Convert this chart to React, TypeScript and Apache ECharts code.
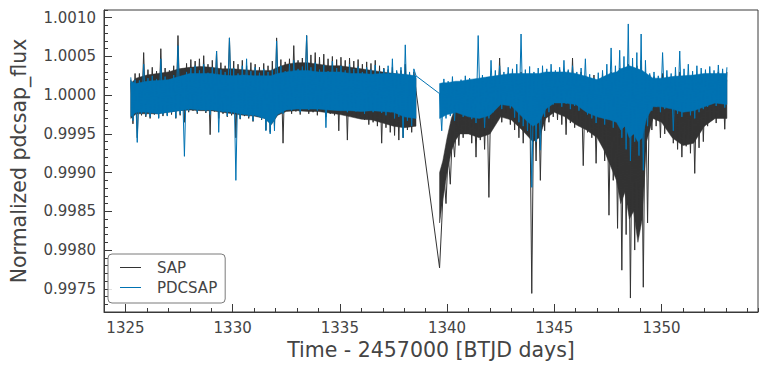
import React, { useEffect, useRef } from "react";
import * as echarts from "echarts";

// Time grid (BTJD - 2457000), 0.1-day steps for each orbit
const SEG1_START = 1325.25;
const SEG2_START = 1339.65;
const STEP = 0.1;

// Flux deviations in units of 1e-5 (flux = 1 + v * 1e-5), alternating high / low readings
const sapSeg1 = [
  20, -37, 28, -55, 28, -26, 55, -28, 33, -30, 36, -25, 31, -29, 60, -27, 35, -26, 32, -25,
  38, -30, 77, -26, 34, -35, 41, -22, 46, -20, 44, -24, 47, -19, 51, -23, 40, -51, 45, -21,
  57, -30, 42, -24, 38, -28, 74, -26, 44, -55, 40, -31, 45, -27, 38, -30, 42, -34, 40, -28,
  36, -32, 41, -45, 38, -48, 44, -40, 74, -22, 46, -62, 43, -20, 47, -24, 64, -21, 45, -25,
  48, -18, 77, -24, 52, -22, 55, -26, 49, -20, 53, -28, 47, -24, 50, -26, 46, -46, 49, -25,
  45, -58, 48, -24, 44, -28, 46, -26, 40, -32, 43, -38, 41, -35, 45, -40, 38, -62, 35, -42,
  33, -48, 36, -52, 30, -58, 32, -55, 40, -45, 28, -48, 30, 6,
];
const pdcSeg1 = [
  23, -33, 20, -61, 19, -24, 40, -26, 22, -28, 25, -22, 21, -30, 47, -25, 24, -27, 20, -23,
  26, -29, 64, -24, 22, -79, 30, -20, 35, -18, 38, -22, 32, -16, 40, -21, 29, -25, 36, -19,
  57, -48, 33, -22, 30, -27, 74, -24, 35, -110, 28, -30, 38, -25, 47, -28, 31, -33, 36, -26,
  29, -31, 34, -46, 30, -50, 33, -46, 70, -18, 38, -24, 31, -14, 40, -20, 45, -17, 34, -22,
  37, -12, 77, -19, 36, -15, 42, -20, 33, -13, 39, -42, 31, -17, 44, -19, 35, -14, 38, -18,
  32, -22, 40, -16, 34, -21, 37, -19, 30, -24, 36, -18, 33, -22, 39, -20, 31, -23, 34, -26,
  38, -22, 47, -30, 32, -28, 36, -55, 65, -33, 30, -40, 34, 25,
];
const sapSeg2 = [
  -223, -165, -100, -140, -75, -115, -45, -80, -25, -65, -5, -55, 10, -50, 15, -62, 12, -80, 18, -58,
  15, -70, 20, -132, 16, -40, 22, -30, 48, -35, 25, -22, 28, -38, 24, -45, 26, -55, 30, -62,
  22, -50, 25, -256, 20, -85, 24, -110, 26, -46, 28, -35, 30, -28, 26, -32, 33, -38, 29, -51,
  31, -36, 48, -42, 27, -40, 30, -91, 25, -48, 22, -55, 26, -88, 20, -60, 28, -85, 24, -155,
  30, -110, 26, -172, 35, -226, 30, -180, 40, -262, 32, -200, 38, -170, 45, -248, 30, -165, 26, -45,
  24, -40, 22, -55, 28, -50, 24, -38, 20, -62, 26, -70, 30, -80, 22, -66, 25, -75, 20, -101,
  24, -68, 22, -60, 26, -40, 28, -30, 24, -36, 30, -28, 26, -44, 30,
];
const pdcSeg2 = [
  2, -46, 21, -30, 18, -27, 24, -33, 16, -22, 20, -28, 25, -19, 22, -31, 19, -36, 77, -25,
  26, -42, 23, -30, 45, -22, 32, -15, 38, -18, 30, -12, 36, -17, 34, -29, 40, -35, 79, -40,
  33, -46, 37, -119, 30, -60, 35, -71, 38, -28, 34, -22, 40, -12, 32, -8, 36, -15, 45, -11,
  33, -18, 38, -14, 30, -20, 35, -17, 47, -25, 27, -30, 22, -36, 29, -28, 32, -38, 40, -30,
  61, -42, 38, -35, 58, -55, 50, -70, 92, -85, 48, -60, 55, -78, 79, -97, 45, -40, 28, -20,
  30, -15, 25, -22, 55, -18, 32, -12, 28, -46, 36, -24, 57, -28, 34, -20, 40, -26, 31, -30,
  38, -22, 35, -18, 33, -15, 37, -10, 32, -14, 39, -8, 34, -16, 36,
];

// Dense-core envelopes of each light curve (same 1e-5 units), read at knot times
const coreT1 = [
  1325.25, 1325.5, 1326.0, 1326.5, 1327.0, 1327.5, 1328.0, 1328.5, 1329.0, 1329.5,
  1330.0, 1330.5, 1331.0, 1331.5, 1331.8, 1332.1, 1332.5, 1333.0, 1333.5, 1334.0,
  1334.5, 1335.0, 1335.5, 1336.0, 1336.5, 1337.0, 1337.5, 1338.0, 1338.55,
];
const pdcCoreHi1 = [18, 15, 18, 19, 20, 24, 28, 28, 28, 26, 25, 26, 25, 25, 25, 28, 30, 32, 32, 30, 30, 30, 28, 28, 27, 28, 28, 27, 25];
const pdcCoreLo1 = [-28, -22, -22, -24, -22, -20, -18, -19, -19, -21, -22, -25, -26, -30, -38, -25, -19, -18, -18, -18, -19, -20, -20, -21, -20, -21, -22, -28, -30];
const sapCoreHi1 = [15, 22, 26, 28, 30, 34, 36, 37, 36, 34, 34, 33, 32, 32, 32, 36, 40, 42, 42, 40, 38, 38, 36, 34, 32, 30, 28, 26, 22];
const sapCoreLo1 = [-30, -24, -24, -24, -22, -20, -19, -20, -20, -22, -24, -26, -27, -30, -38, -26, -21, -20, -21, -21, -23, -25, -28, -31, -32, -36, -40, -42, -40];

const coreT2 = [
  1339.65, 1339.8, 1340.0, 1340.2, 1340.4, 1340.6, 1341.0, 1341.5, 1342.0, 1342.5,
  1343.0, 1343.5, 1344.0, 1344.3, 1344.6, 1345.0, 1345.5, 1346.0, 1346.5, 1347.0,
  1347.3, 1347.6, 1347.9, 1348.1, 1348.3, 1348.5, 1348.7, 1348.9, 1349.1, 1349.3,
  1349.6, 1350.0, 1350.5, 1351.0, 1351.5, 1352.0, 1352.5, 1353.05,
];
const pdcCoreHi2 = [
  15, 16, 16, 17, 18, 18, 20, 22, 24, 26, 28, 28, 28, 28, 30, 30, 30, 28, 24, 20,
  24, 28, 30, 34, 36, 38, 36, 34, 32, 28, 22, 22, 24, 25, 26, 28, 28, 28,
];
const pdcCoreLo2 = [
  -30, -28, -25, -24, -22, -24, -28, -30, -26, -12, -14, -28, -40, -35, -18, -10, -10, -12, -22, -28,
  -30, -32, -35, -45, -40, -55, -50, -60, -55, -30, -15, -15, -18, -22, -20, -15, -10, -12,
];
const sapCoreHi2 = [
  -100, -85, -55, -30, -15, 0, 10, 12, 14, 18, 20, 20, 20, 20, 22, 24, 24, 22, 20, 18,
  19, 20, 22, 22, 24, 25, 25, 25, 24, 20, 18, 18, 18, 18, 18, 20, 20, 20,
];
const sapCoreLo2 = [
  -165, -135, -100, -72, -58, -50, -50, -55, -50, -28, -32, -45, -60, -55, -30, -22, -28, -38, -45, -55,
  -70, -90, -110, -140, -125, -160, -150, -190, -160, -60, -30, -35, -55, -65, -62, -40, -30, -30,
];

const Y_TICK_DECIMALS = 4;

const toFlux = (v: number) => 1 + v * 1e-5;

function toPoints(seg1: number[], seg2: number[]) {
  const pts: number[][] = [];
  seg1.forEach((v, i) => pts.push([SEG1_START + i * STEP, toFlux(v)]));
  seg2.forEach((v, i) => pts.push([SEG2_START + i * STEP, toFlux(v)]));
  return pts;
}

function bandPolygon(t: number[], hi: number[], lo: number[]) {
  const pts: number[][] = [];
  for (let i = 0; i < t.length; i++) pts.push([t[i], toFlux(hi[i])]);
  for (let i = t.length - 1; i >= 0; i--) pts.push([t[i], toFlux(lo[i])]);
  return pts;
}

const AXIS_COLOR = "#3a3a3a";
const TEXT_COLOR = "#444444";
const SAP_COLOR = "#333333";
const PDC_COLOR = "#0072b2";
const FONT = "DejaVu Sans";

function bandSeries(name: string, polys: number[][][], color: string, z: number) {
  return {
    name,
    type: "custom",
    xAxisIndex: 0,
    yAxisIndex: 0,
    z,
    silent: true,
    data: [[polys[0][0][0], polys[0][0][1]]],
    renderItem: (_params: any, api: any) => ({
      type: "group",
      children: polys.map((poly) => ({
        type: "polygon",
        shape: { points: poly.map((p) => api.coord(p)) },
        style: { fill: color, stroke: color, lineWidth: 0.5 },
      })),
    }),
  };
}

export default function App() {
  const ref = useRef<HTMLDivElement>(null);
  useEffect(() => {
    if (!ref.current) return;
    const chart = echarts.init(ref.current, undefined, { renderer: "svg" });
    const xMin = 1324.0;
    const xMax = 1354.5;
    const yMin = 0.9972;
    const yMax = 1.0011;
    chart.setOption({
      animation: false,
      backgroundColor: "#ffffff",
      textStyle: { fontFamily: FONT },
      grid: {
        left: 101,
        right: 10,
        top: 10,
        bottom: 56,
        show: true,
        borderColor: AXIS_COLOR,
        borderWidth: 1,
        backgroundColor: "transparent",
      },
      legend: {
        orient: "vertical",
        left: 108,
        top: 254,
        data: ["SAP", "PDCSAP"],
        icon: "rect",
        itemWidth: 21,
        itemHeight: 1,
        itemGap: 5,
        padding: [6, 8, 8, 12],
        backgroundColor: "rgba(255,255,255,0.85)",
        borderColor: "#7a7a7a",
        borderWidth: 1,
        borderRadius: 4,
        textStyle: { fontSize: 15, color: TEXT_COLOR, fontFamily: FONT, padding: [0, 0, 0, 11] },
      },
      xAxis: [
        {
          type: "value",
          min: xMin,
          max: xMax,
          splitNumber: 6,
          name: "Time - 2457000 [BTJD days]",
          nameLocation: "middle",
          nameGap: 22,
          nameTextStyle: { fontSize: 20.5, color: TEXT_COLOR, fontFamily: FONT },
          axisLine: { show: true, lineStyle: { color: AXIS_COLOR, width: 1 } },
          axisTick: { show: true, inside: true, length: 8, lineStyle: { color: AXIS_COLOR } },
          axisLabel: {
            show: true,
            margin: 8,
            fontSize: 15,
            color: TEXT_COLOR,
            fontFamily: FONT,
            showMinLabel: false,
            showMaxLabel: false,
            formatter: (v: number) => String(Math.round(v)),
          },
          splitLine: { show: false },
        },
        {
          type: "value",
          min: xMin,
          max: xMax,
          interval: 1,
          position: "bottom",
          axisLine: { show: false },
          axisTick: { show: true, inside: true, length: 4, lineStyle: { color: AXIS_COLOR } },
          axisLabel: { show: false },
          splitLine: { show: false },
        },
      ],
      yAxis: [
        {
          type: "value",
          min: yMin,
          max: yMax,
          splitNumber: 8,
          name: "Normalized pdcsap_flux",
          nameLocation: "middle",
          nameGap: 75,
          nameTextStyle: { fontSize: 20.5, color: TEXT_COLOR, fontFamily: FONT },
          axisLine: { show: true, lineStyle: { color: AXIS_COLOR, width: 1 } },
          axisTick: { show: true, inside: true, length: 8, lineStyle: { color: AXIS_COLOR } },
          axisLabel: {
            show: true,
            margin: 8,
            fontSize: 15,
            color: TEXT_COLOR,
            fontFamily: FONT,
            showMinLabel: false,
            showMaxLabel: false,
            formatter: (v: number) => v.toFixed(Y_TICK_DECIMALS),
          },
          splitLine: { show: false },
        },
        {
          type: "value",
          min: yMin,
          max: yMax,
          interval: 0.0001,
          position: "left",
          axisLine: { show: false },
          axisTick: { show: true, inside: true, length: 4, lineStyle: { color: AXIS_COLOR } },
          axisLabel: { show: false },
          splitLine: { show: false },
        },
      ],
      series: [
        bandSeries(
          "sapCore",
          [bandPolygon(coreT1, sapCoreHi1, sapCoreLo1), bandPolygon(coreT2, sapCoreHi2, sapCoreLo2)],
          SAP_COLOR,
          1
        ),
        {
          name: "SAP",
          type: "line",
          xAxisIndex: 0,
          yAxisIndex: 0,
          data: toPoints(sapSeg1, sapSeg2),
          showSymbol: false,
          symbol: "none",
          lineStyle: { color: SAP_COLOR, width: 1, join: "bevel" },
          itemStyle: { color: SAP_COLOR },
          z: 2,
        },
        bandSeries(
          "pdcCore",
          [bandPolygon(coreT1, pdcCoreHi1, pdcCoreLo1), bandPolygon(coreT2, pdcCoreHi2, pdcCoreLo2)],
          PDC_COLOR,
          3
        ),
        {
          name: "PDCSAP",
          type: "line",
          xAxisIndex: 0,
          yAxisIndex: 0,
          data: toPoints(pdcSeg1, pdcSeg2),
          showSymbol: false,
          symbol: "none",
          lineStyle: { color: PDC_COLOR, width: 1, join: "bevel" },
          itemStyle: { color: PDC_COLOR },
          z: 4,
        },
      ],
    });
    return () => chart.dispose();
  }, []);
  return (
    <div
      ref={ref}
      style={{ position: "fixed", left: 0, top: 0, width: 768, height: 368, background: "#fff" }}
    />
  );
}
